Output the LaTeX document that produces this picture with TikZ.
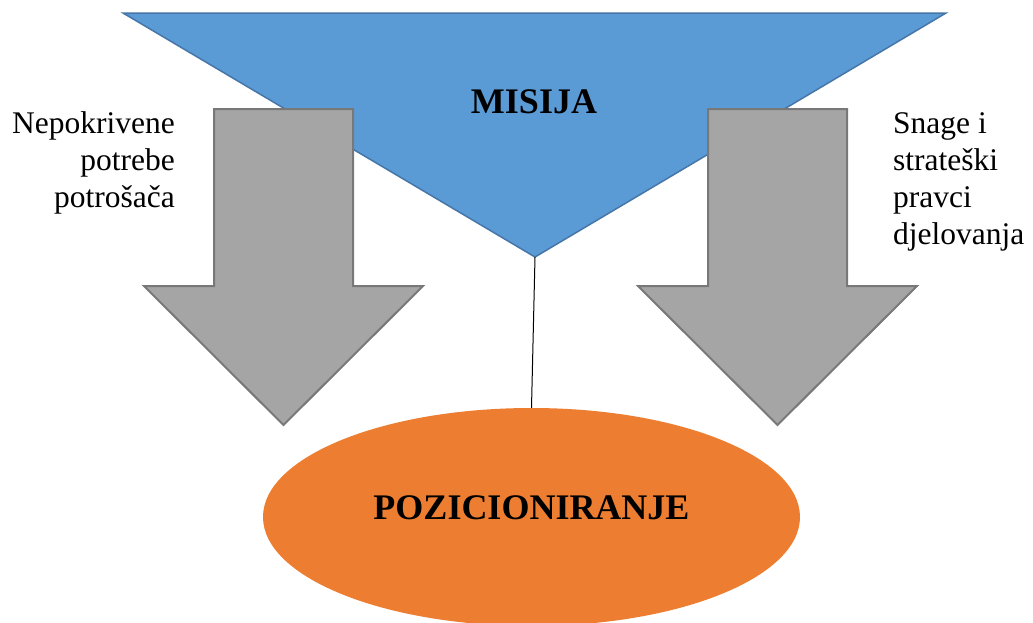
\documentclass[tikz,border=0pt]{standalone}
\usepackage{fontspec}
\setmainfont{LiberationSerif}[
  Extension=.ttf,
  UprightFont=*-Regular,
  BoldFont=*-Bold,
  ItalicFont=*-Italic,
  BoldItalicFont=*-BoldItalic]
\usepackage{xcolor}
\usetikzlibrary{shapes.geometric}
\definecolor{misijablue}{HTML}{5B9BD5}
\definecolor{misijaedge}{HTML}{4676A8}
\definecolor{arrowgray}{HTML}{A5A5A5}
\definecolor{arrowedge}{HTML}{787878}
\definecolor{pozorange}{HTML}{ED7D31}

\begin{document}
\begin{tikzpicture}[
  x=1pt, y=-1pt,
  sidetext/.style={font=\fontsize{31.5}{37}\selectfont, inner sep=0pt},
  heading/.style={font=\fontsize{36}{40}\selectfont\bfseries, inner sep=0pt, anchor=base},
  funnel/.style={fill=misijablue, draw=misijaedge, line width=1.5pt},
  downarrow/.style={fill=arrowgray, draw=arrowedge, line width=2pt},
  connector/.style={draw=black, line width=1pt}
]
\useasboundingbox (0,0) rectangle (1033,622);
% mission triangle
\coordinate (apex) at (535,257);
\draw[funnel] (123,13) -- (946,13) -- (apex) -- cycle;
\node[heading] (misija) at (534,113) {MISIJA};
% two grey arrows
\foreach \cx in {283.5,777.5} {
  \draw[downarrow] (\cx-69.5,109) -- (\cx+69.5,109) -- (\cx+69.5,286)
    -- (\cx+139.5,286) -- (\cx,425) -- (\cx-139.5,286) -- (\cx-69.5,286) -- cycle;
}
% positioning ellipse
\node[ellipse, fill=pozorange, minimum width=537pt, minimum height=218pt, inner sep=0pt] (poz) at (531.5,517) {};
\node[heading] (pozicija) at (531.5,519) {POZICIONIRANJE};
\draw[connector] (apex) -- (poz.north);
% side labels
\node[sidetext, align=right, anchor=north east] (potrebe) at (175,111) {Nepokrivene\\potrebe\\potrošača};
\node[sidetext, align=left, anchor=north west] (snage) at (893,112) {Snage i\\strateški\\pravci\\djelovanja};
\end{tikzpicture}
\end{document}
